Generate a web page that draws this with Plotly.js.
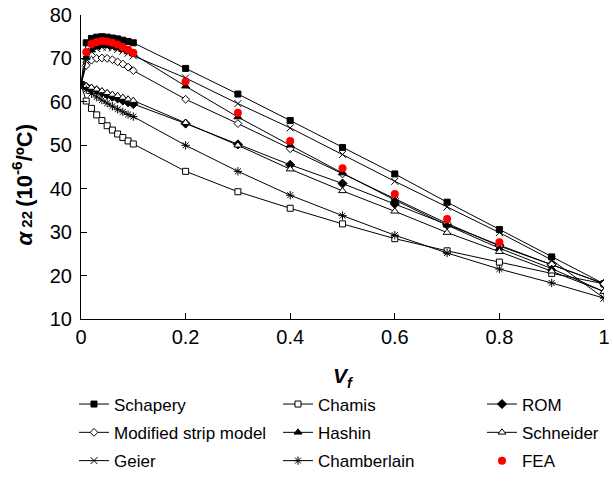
<!DOCTYPE html>
<html>
<head>
<meta charset="utf-8">
<script src="https://cdn.plot.ly/plotly-3.0.1.min.js"></script>
<style>html,body{margin:0;padding:0;background:#fff;}#chart{width:613px;height:487px;}</style>
</head>
<body>
<div id="chart"></div>
<script>
// Fibre volume fraction
var vf = [0, 0.01, 0.02, 0.03, 0.04, 0.05, 0.06, 0.07, 0.08, 0.09, 0.1, 0.2, 0.3, 0.4, 0.5, 0.6, 0.7, 0.8, 0.9, 1.0];
var vfFEA = [0.01, 0.02, 0.03, 0.04, 0.05, 0.06, 0.07, 0.08, 0.09, 0.1, 0.2, 0.3, 0.4, 0.5, 0.6, 0.7, 0.8];

// alpha22 values (10^-6/°C)
var schapery    = [64, 73.6, 74.6, 74.9, 75.0, 74.9, 74.7, 74.5, 74.2, 73.9, 73.6, 67.7, 61.8, 55.7, 49.5, 43.4, 36.9, 30.6, 24.3, 18.1];
var chamis      = [64, 60.2, 58.5, 57.0, 55.7, 54.5, 53.5, 52.6, 51.8, 51.0, 50.3, 44.0, 39.3, 35.5, 31.9, 28.5, 25.7, 23.1, 20.5, 18.1];
var rom         = [64, 63.5, 63.0, 62.6, 62.1, 61.7, 61.2, 60.8, 60.3, 59.9, 59.5, 55.0, 50.2, 45.5, 41.2, 36.5, 31.7, 27.0, 22.5, 18.1];
var modStrip    = [64, 68.4, 69.6, 70.0, 70.1, 70.0, 69.7, 69.2, 68.7, 68.0, 67.2, 60.6, 55.0, 49.2, 43.4, 37.7, 32.0, 26.8, 22.5, 18.1];
var hashin      = [64, 70.2, 71.9, 72.6, 72.9, 72.9, 72.7, 72.4, 72.0, 71.5, 71.0, 63.6, 56.5, 50.0, 43.6, 37.4, 31.6, 26.3, 21.6, 16.3];
var schneider   = [64, 63.7, 63.3, 62.9, 62.5, 62.1, 61.7, 61.4, 61.0, 60.6, 60.3, 55.2, 50.0, 44.5, 39.5, 34.8, 29.9, 25.5, 21.0, 16.3];
var geier       = [64, 69.8, 71.6, 72.3, 72.6, 72.6, 72.4, 72.1, 71.7, 71.2, 70.6, 65.5, 59.6, 54.0, 47.9, 41.7, 35.8, 29.9, 23.6, 14.8];
var chamberlain = [64, 62.8, 61.9, 61.1, 60.4, 59.7, 59.0, 58.3, 57.7, 57.1, 56.6, 50.0, 44.0, 38.5, 33.8, 29.3, 25.2, 21.5, 18.3, 14.8];
var fea         = [71.5, 73.3, 73.8, 74.0, 73.9, 73.6, 73.2, 72.6, 72.0, 71.3, 64.7, 57.5, 51.0, 44.7, 38.8, 33.0, 27.7];

var yTicks = [10, 20, 30, 40, 50, 60, 70, 80];
var xTicks = [0, 0.2, 0.4, 0.6, 0.8, 1];

function series(name, y, symbol, fill, size, legendId) {
  return {
    x: vf, y: y, name: name, type: 'scatter', mode: 'lines+markers',
    legend: legendId, legendgroup: name,
    line: {color: '#000000', width: 1},
    marker: {symbol: symbol, size: size, color: fill, line: {color: '#000000', width: 1}}
  };
}

var traces = [
  series('Schapery', schapery, 'square', '#000000', 6, 'legend'),
  series('Chamis', chamis, 'square', '#ffffff', 6, 'legend2'),
  series('ROM', rom, 'diamond', '#000000', 7, 'legend3'),
  series('Modified strip model', modStrip, 'diamond', '#ffffff', 6, 'legend'),
  series('Hashin', hashin, 'triangle-up', '#000000', 7, 'legend2'),
  series('Schneider', schneider, 'triangle-up', '#ffffff', 7, 'legend3'),
  series('Geier', geier, 'x-thin-open', '#000000', 7, 'legend'),
  series('Chamberlain', chamberlain, 'asterisk-open', '#000000', 7, 'legend2'),
  {
    x: vfFEA, y: fea, name: 'FEA', type: 'scatter', mode: 'markers',
    legend: 'legend3', legendgroup: 'FEA',
    marker: {symbol: 'circle', size: 8, color: '#ff0000'}
  }
];

var legendFont = {family: 'Liberation Sans, Arial, sans-serif', size: 17, color: '#000000'};
function leg(xp) {
  return {x: xp, y: -0.222, xanchor: 'left', yanchor: 'top', orientation: 'v',
          font: legendFont, bgcolor: 'rgba(0,0,0,0)', borderwidth: 0, tracegroupgap: 3.2};
}

var layout = {
  width: 613, height: 487,
  margin: {l: 81, r: 9, t: 15, b: 155},
  paper_bgcolor: '#ffffff', plot_bgcolor: '#ffffff',
  font: {family: 'Liberation Sans, Arial, sans-serif', size: 20, color: '#000000'},
  showlegend: true,
  legend: leg(-0.0134),
  legend2: leg(0.3767),
  legend3: leg(0.7667),
  xaxis: {
    range: [0, 1], tickvals: xTicks, ticktext: xTicks.map(String),
    ticks: 'inside', ticklen: 6, tickcolor: '#000000', tickwidth: 1,
    showline: true, linecolor: '#000000', linewidth: 1,
    showgrid: false, zeroline: false,
    tickfont: {size: 20},
    title: {text: '<b><i>V<sub>f</sub></i></b>', font: {size: 21}, standoff: 21}
  },
  yaxis: {
    range: [10, 80], tickvals: yTicks, ticktext: yTicks.map(String),
    ticks: 'inside', ticklen: 6, tickcolor: '#000000', tickwidth: 1,
    showline: true, linecolor: '#000000', linewidth: 1,
    showgrid: false, zeroline: false,
    tickfont: {size: 20}, ticklabelstandoff: 4
  },
  annotations: [{
    xref: 'paper', yref: 'paper', x: -0.113, y: 0.442,
    xanchor: 'center', yanchor: 'middle', textangle: -90, showarrow: false,
    text: '<b><i>α</i></b><b><span style="font-size:15px"> 22 </span>(10<sup>-6</sup>/ºC)</b>',
    font: {size: 22, color: '#000000'}
  }]
};

Plotly.newPlot('chart', traces, layout, {staticPlot: true, displayModeBar: false});
</script>
</body>
</html>
